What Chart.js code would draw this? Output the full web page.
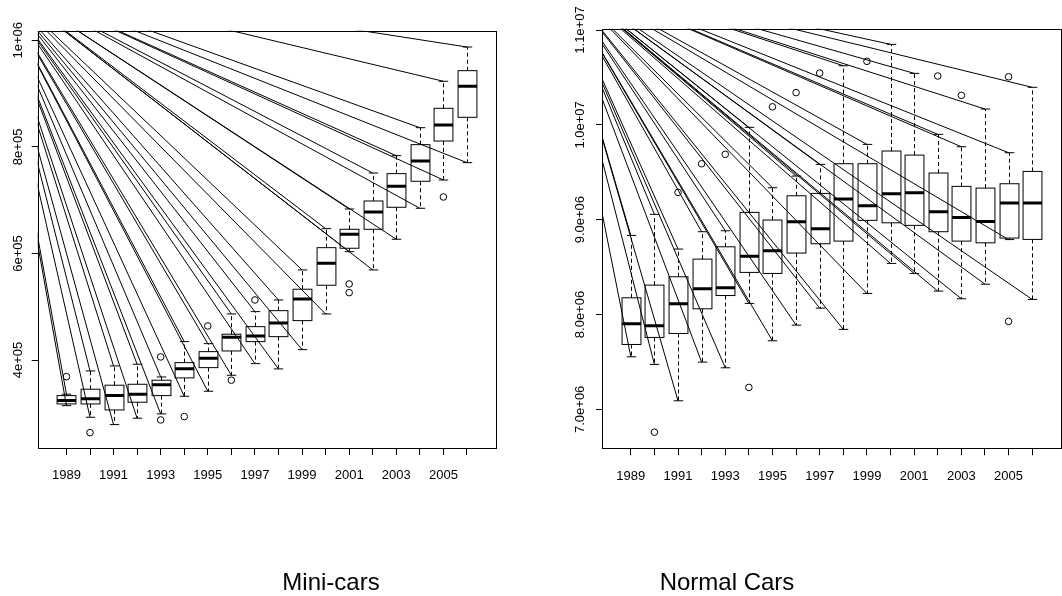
<!DOCTYPE html>
<html><head><meta charset="utf-8">
<script src="https://cdn.jsdelivr.net/npm/chart.js@4/dist/chart.umd.min.js"></script>
<style>
html,body{margin:0;padding:0;background:#fff;overflow:hidden;width:1062px;height:596px;position:relative;}
#c1{position:absolute;left:0;top:0;}
#c2{position:absolute;left:531px;top:0;}
.ttl{position:absolute;top:570px;width:240px;text-align:center;font:24px "Liberation Sans",Arial,sans-serif;line-height:24px;color:#000;white-space:nowrap;}
</style></head>
<body>
<canvas id="c1" width="531" height="596"></canvas>
<canvas id="c2" width="560" height="596"></canvas>
<div class="ttl" style="left:211px">Mini-cars</div>
<div class="ttl" style="left:607px">Normal Cars</div>
<script>
// ---------- data ----------
const years = [1989,1990,1991,1992,1993,1994,1995,1996,1997,1998,1999,2000,2001,2002,2003,2004,2005,2006];
const xTickPos = [1,2,3,4,5,6,7,8,9,10,11,12,13,14,15,16,17,18];
const xTickLabels = ['1989','','1991','','1993','','1995','','1997','','1999','','2001','','2003','','2005',''];

// Mini-cars
const miniLow  = [314500,292700,278900,290900,299000,332100,341500,371500,393300,383400,419600,486500,603400,569100,626700,684800,737900,770400];
const miniQ1   = [317700,317700,306400,320900,333300,366500,385800,417100,434600,443900,474000,540400,609800,645400,686700,735500,811000,855500];
const miniMed  = [323900,327600,333300,335900,353900,383900,403400,442800,445300,469700,514700,581700,636000,677900,726100,773600,841100,913700];
const miniQ3   = [333300,345300,352800,354600,362200,395200,415800,448500,462700,492700,532900,610900,645400,698500,749800,804200,872400,943000];
const miniHigh = [336000,379600,389000,392200,368300,434600,430800,486500,490900,512800,569100,646600,683500,751000,783500,836000,923100,987400];
const miniOutPos = [1,2,5,5,6,7,8,9,13,13,17];
const miniOutVal = [368900,263900,405900,287700,293900,464000,362200,512800,542800,526500,706000];
const miniYTicks = [400000,600000,800000,1000000];
const miniYLabels = ['4e+05','6e+05','8e+05','1e+06'];

// Normal Cars
const normLow  = [7554000,7474000,7090000,7498000,7438000,8117000,7723000,7888000,8067000,7843000,8222000,8539000,8433000,8247000,8166000,8320000,8790000,8159000];
const normQ1   = [7684000,7758000,7800000,8060000,8200000,8444000,8433000,8648000,8746000,8774000,8993000,8967000,8940000,8873000,8774000,8756000,8806000,8792000];
const normMed  = [7902000,7881000,8113000,8271000,8282000,8613000,8672000,8978000,8904000,9217000,9147000,9273000,9284000,9083000,9024000,8982000,9175000,9175000];
const normQ3   = [8176000,8310000,8398000,8584000,8714000,9077000,8996000,9252000,9277000,9590000,9590000,9724000,9681000,9492000,9351000,9333000,9379000,9509000];
const normHigh = [8834000,9056000,8690000,8873000,8883000,9974000,9337000,9460000,9583000,10623000,9794000,10849000,10543000,9900000,9769000,10167000,9706000,10396000];
const normOutPos = [2,3,4,5,6,7,8,9,11,14,15,17,17];
const normOutVal = [6759000,9288000,9590000,9689000,7231000,10190000,10340000,10546000,10670000,10515000,10311000,10507000,7927000];
const normYTicks = [7000000,8000000,9000000,10000000,11000000];
const normYLabels = ['7.0e+06','8.0e+06','9.0e+06','1.0e+07','1.1e+07'];

// common point the stray lines radiate from (data units)
const lineOriginX = -2.27;
const miniLineOriginY = 1126500;
const normLineOriginY = 11629000;

Chart.defaults.font.family = '"Liberation Sans", Arial, Helvetica, sans-serif';
Chart.defaults.color = '#000';

function boxPlugin(id, low, q1, med, q3, high, originY) {
  return {
    id: 'bx' + id,
    beforeDatasetsDraw(chart) {
      const ctx = chart.ctx, a = chart.chartArea, x = chart.scales.x, y = chart.scales.y;
      ctx.save();
      ctx.beginPath();
      ctx.rect(a.left, a.top, a.right - a.left, a.bottom - a.top);
      ctx.clip();
      ctx.strokeStyle = '#000';
      ctx.lineWidth = 1;
      const ox = x.getPixelForValue(lineOriginX), oy = y.getPixelForValue(originY);
      ctx.beginPath();
      for (let i = 0; i < low.length; i++) {
        const px = x.getPixelForValue(xTickPos[i]);
        ctx.moveTo(ox, oy); ctx.lineTo(px, y.getPixelForValue(high[i]));
        ctx.moveTo(ox, oy); ctx.lineTo(px, y.getPixelForValue(low[i]));
      }
      ctx.stroke();
      for (let i = 0; i < low.length; i++) {
        const cx = Math.round(x.getPixelForValue(xTickPos[i])) + 0.5;
        const hw = x.getPixelForValue(xTickPos[i] + 0.4) - x.getPixelForValue(xTickPos[i]);
        const cw = hw / 2;
        const yl = y.getPixelForValue(low[i]), y1 = y.getPixelForValue(q1[i]);
        const ym = y.getPixelForValue(med[i]), y3 = y.getPixelForValue(q3[i]);
        const yh = y.getPixelForValue(high[i]);
        ctx.lineWidth = 1;
        ctx.setLineDash([4, 3]);
        ctx.beginPath();
        ctx.moveTo(cx, y3); ctx.lineTo(cx, yh);
        ctx.moveTo(cx, y1); ctx.lineTo(cx, yl);
        ctx.stroke();
        ctx.setLineDash([]);
        ctx.beginPath();
        ctx.moveTo(cx - cw, yh); ctx.lineTo(cx + cw, yh);
        ctx.moveTo(cx - cw, yl); ctx.lineTo(cx + cw, yl);
        ctx.stroke();
        ctx.strokeRect(cx - hw, y3, 2 * hw, y1 - y3);
        ctx.lineWidth = 3;
        ctx.beginPath();
        ctx.moveTo(cx - hw, ym); ctx.lineTo(cx + hw, ym);
        ctx.stroke();
      }
      ctx.restore();
      ctx.save();
      ctx.strokeStyle = '#000';
      ctx.lineWidth = 1;
      ctx.strokeRect(Math.round(a.left) + 0.5, Math.round(a.top) + 0.5,
                     Math.round(a.right) - Math.round(a.left), Math.round(a.bottom) - Math.round(a.top));
      ctx.restore();
    }
  };
}

function makeChart(el, cfg) {
  const pts = cfg.outPos.map((p, i) => ({x: p, y: cfg.outVal[i]}));
  return new Chart(document.getElementById(el), {
    type: 'scatter',
    data: {datasets: [{
      data: pts, pointStyle: 'circle', pointRadius: 3.3, pointHoverRadius: 3.3,
      borderColor: '#000', borderWidth: 1, backgroundColor: 'rgba(0,0,0,0)'
    }]},
    options: {
      responsive: false, animation: false, devicePixelRatio: 1, events: [],
      layout: {padding: {left: 0, top: cfg.top, right: cfg.padRight, bottom: cfg.padBottom}},
      plugins: {legend: {display: false}, tooltip: {enabled: false}, title: {display: false}},
      scales: {
        x: {
          type: 'linear', min: -0.22, max: 19.22,
          afterBuildTicks: s => { s.ticks = xTickPos.map(v => ({value: v})); },
          afterFit: s => { s.height = 40; },
          grid: {drawOnChartArea: false, drawTicks: true, tickLength: 7, color: '#000', lineWidth: 1},
          border: {display: false},
          ticks: {autoSkip: false, maxRotation: 0, minRotation: 0, padding: 13, color: '#000',
                  font: {size: 13}, callback: (v, i) => xTickLabels[i]}
        },
        y: {
          type: 'linear', min: cfg.ymin, max: cfg.ymax,
          afterBuildTicks: s => { s.ticks = cfg.yTicks.map(v => ({value: v})); },
          afterFit: s => { s.width = cfg.yWidth; },
          grid: {drawOnChartArea: false, drawTicks: true, tickLength: 6, color: '#000', lineWidth: 1},
          border: {display: false},
          ticks: {minRotation: 90, maxRotation: 90, crossAlign: 'center', padding: cfg.yPad, color: '#000',
                  font: {size: 13}, callback: (v, i) => cfg.yLabels[i]}
        }
      }
    },
    plugins: [boxPlugin(el, cfg.low, cfg.q1, cfg.med, cfg.q3, cfg.high, cfg.originY)]
  });
}

makeChart('c1', {
  low: miniLow, q1: miniQ1, med: miniMed, q3: miniQ3, high: miniHigh,
  outPos: miniOutPos, outVal: miniOutVal, yTicks: miniYTicks, yLabels: miniYLabels,
  ymin: 235000, ymax: 1018000, originY: miniLineOriginY,
  top: 30.7, padRight: 35.3, padBottom: 108, yWidth: 37.7, yPad: -5
});
makeChart('c2', {
  low: normLow, q1: normQ1, med: normMed, q3: normQ3, high: normHigh,
  outPos: normOutPos, outVal: normOutVal, yTicks: normYTicks, yLabels: normYLabels,
  ymin: 6589000, ymax: 11014000, originY: normLineOriginY,
  top: 28.7, padRight: 30, padBottom: 107.7, yWidth: 71, yPad: -8.5
});
</script>
</body></html>
